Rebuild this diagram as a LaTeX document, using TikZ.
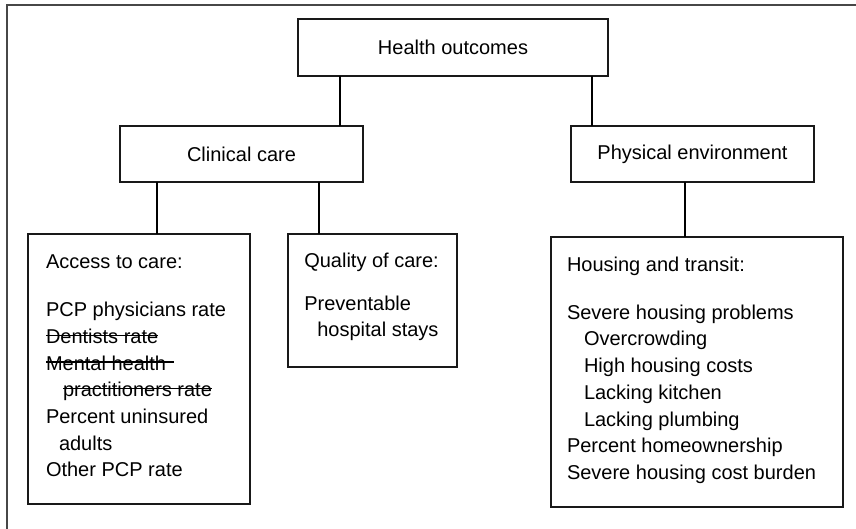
\documentclass[tikz,border=0pt]{standalone}
\usepackage{fontspec}
\setmainfont{Liberation Sans}
% strike a line through text, optionally running on past its end
\newcommand\strikeit[2][0pt]{\leavevmode\setbox0=\hbox{#2}\rlap{\rule[0.37em]{\dimexpr\wd0+#1\relax}{1.3pt}}\box0}
\begin{document}
\begin{tikzpicture}[x=1pt,y=-1pt,
  box/.style={draw=black!90,line width=1.2pt,fill=white,inner sep=0pt,outer sep=0pt,
    font=\fontsize{20pt}{24pt}\selectfont},
  link/.style={line width=2pt,black},
  txt/.style={anchor=base west,inner sep=0pt,outer sep=0pt}]
\useasboundingbox (0,0) rectangle (856,529);
% frame around the figure
\draw[line width=1.8pt,black!72] (7,529) -- (7,5) -- (856,5);

% boxes
\node[box,minimum width=310pt,minimum height=57pt] (ho) at (453,47.5) {Health outcomes};
\node[box,minimum width=243pt,minimum height=56pt] (cc) at (241.5,154) {Clinical care};
\node[box,minimum width=243pt,minimum height=56pt] (pe) at (692.5,154) {Physical environment};
\node[box,minimum width=222pt,minimum height=270pt] (ac) at (139,369) {};
\node[box,minimum width=169pt,minimum height=133pt] (qc) at (372.5,300.5) {};
\node[box,minimum width=292pt,minimum height=270pt] (ht) at (697,372) {};

% connectors
\draw[link] ([xshift=42pt]ho.south west) -- ([xshift=42pt]ho.south west |- cc.north);
\draw[link] ([xshift=-16pt]ho.south east) -- ([xshift=-16pt]ho.south east |- pe.north);
\draw[link] ([xshift=37pt]cc.south west) -- ([xshift=37pt]cc.south west |- ac.north);
\draw[link] ([xshift=199pt]cc.south west) -- ([xshift=199pt]cc.south west |- qc.north);
\draw[link] ([xshift=114pt]pe.south west) -- ([xshift=114pt]pe.south west |- ht.north);

% box contents
\node[txt] (actext) at (46,268.3) {\parbox[t]{200pt}{\fontsize{20pt}{26.7pt}\selectfont\raggedright
  Access to care:\\[21.6pt]
  PCP physicians rate\\
  \strikeit{Dentists rate}\\
  \strikeit[8pt]{Mental health}\\
  \hspace*{17pt}\strikeit{practitioners rate}\\
  Percent uninsured\\
  \hspace*{13pt}adults\\
  Other PCP rate}};
\node[txt] (qctext) at (304.3,267.7) {\parbox[t]{150pt}{\fontsize{20pt}{26pt}\selectfont\raggedright
  Quality of care:\\[17pt]
  Preventable\\
  \hspace*{13pt}hospital stays}};
\node[txt] (httext) at (567,271.7) {\parbox[t]{270pt}{\fontsize{20pt}{26.7pt}\selectfont\raggedright
  Housing and transit:\\[20.9pt]
  Severe housing problems\\
  \hspace*{17pt}Overcrowding\\
  \hspace*{17pt}High housing costs\\
  \hspace*{17pt}Lacking kitchen\\
  \hspace*{17pt}Lacking plumbing\\
  Percent homeownership\\
  Severe housing cost burden}};
\end{tikzpicture}
\end{document}
